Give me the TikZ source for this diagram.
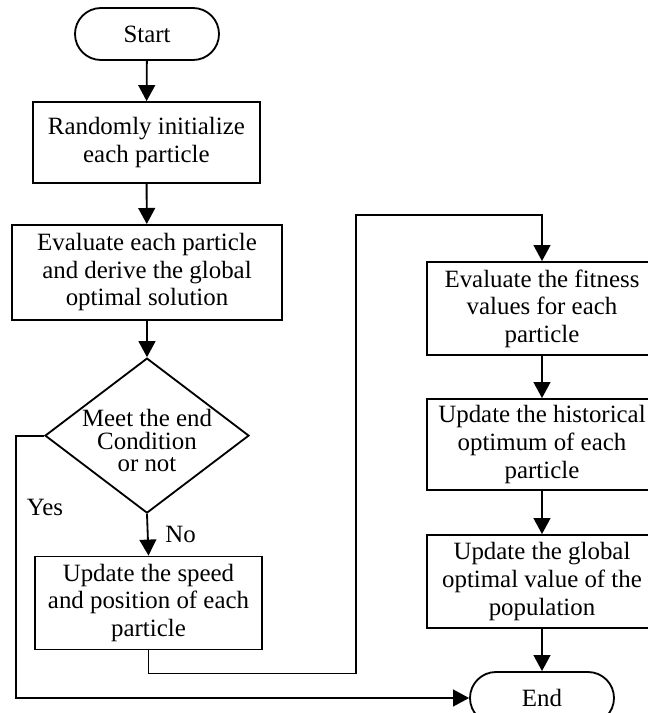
\documentclass[tikz,border=0pt]{standalone}
\usepackage{fontspec}
\setmainfont{Liberation Serif}
\usetikzlibrary{arrows.meta,shapes.geometric}
\begin{document}
\begin{tikzpicture}[
    every node/.style={font=\fontsize{17.7}{19.6}\selectfont},
    box/.style={draw,line width=1.3pt,inner sep=0pt,align=center,minimum width=5.675cm,minimum height=2.325cm},
    term/.style={draw,line width=1.3pt,rounded corners=0.65cm,minimum width=3.6cm,minimum height=1.3cm,inner sep=0pt},
    cond/.style={draw,line width=1.3pt,diamond,aspect=1.316,inner sep=-0.3cm,align=center,minimum width=5.1cm,minimum height=3.875cm,font=\fontsize{17.7}{16}\selectfont},
    arrow/.style={-{Triangle[length=0.4cm,width=0.42cm]},line width=1.3pt}
]
\useasboundingbox (0,0) rectangle (16.2,-17.825);
% Left column
\node[term] (start) at (3.675,-0.85) {Start};
\node[box,minimum height=2.025cm] (init) at (3.66,-3.5625) {Randomly initialize\\each particle};
\node[box,minimum width=6.75cm,minimum height=2.375cm] (eval) at (3.675,-6.81) {Evaluate each particle\\and derive the global\\optimal solution};
\node[cond] (meet) at (3.675,-10.89) {\rule{0pt}{0.69cm}Meet the end\\Condition\\or not};
\node[box] (upd) at (3.7125,-15.075) {Update the speed\\and position of each\\particle};

% Right column
\node[box,minimum width=5.75cm] (fit) at (13.55,-7.7125) {Evaluate the fitness\\values for each\\particle};
\node[box,minimum width=5.75cm,minimum height=2.275cm] (hist) at (13.55,-11.1125) {Update the historical\\optimum of each\\particle};
\node[box,minimum width=5.75cm] (glob) at (13.55,-14.5375) {Update the global\\optimal value of the\\population};
\node[term] (end) at (13.55,-17.45) {End};

% Flow
\draw[arrow] (start) -- (init);
\draw[arrow] (init) -- (eval);
\draw[arrow] (eval) -- (meet);
\draw[arrow] (meet.south) -- node[right=0.3cm] (no) {No} (upd.north);
\coordinate (loop) at (8.9,-5.375);
\draw[arrow] (upd.south) -- ++(0,-0.575) -| (loop) -| (fit.north);
\draw[arrow] (fit) -- (hist);
\draw[arrow] (hist) -- (glob);
\draw[arrow] (glob) -- (end);
\draw[arrow] (meet.west) -- ++(-0.7,0) |- (end.west);
\node (yes) at (1.125,-12.675) {Yes};
\end{tikzpicture}
\end{document}
